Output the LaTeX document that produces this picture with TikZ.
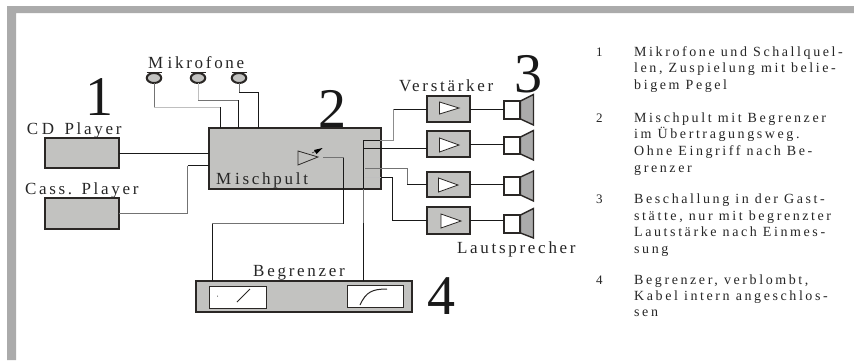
\documentclass[tikz,border=0pt]{standalone}
\usepackage{fontspec}
\setmainfont{Liberation Serif}
\newfontfamily\lab[LetterSpace=16]{Liberation Serif}
\newfontfamily\para[LetterSpace=18.5]{Liberation Serif}
\usetikzlibrary{shapes.geometric}
\definecolor{frameg}{HTML}{ABABAB}
\definecolor{boxg}{HTML}{C2C2C0}
\definecolor{dark}{HTML}{2A2725}
\tikzset{
  x=1pt,y=-1pt,
  unit/.style={draw=dark,line width=1.5pt,fill=boxg,inner sep=0pt,outer sep=0pt},
  white box/.style={draw=dark,line width=1pt,fill=white,inner sep=0pt,outer sep=0pt},
  wire/.style={line width=.75pt,draw=black!90},
  wireg/.style={line width=.75pt,draw=black!55},
  wirel/.style={line width=.9pt,draw=black!25},
  amptri/.style={draw=dark,line width=.8pt,fill=white,line join=miter},
  label/.style={anchor=base west,inner sep=0pt,outer sep=0pt,text=black!85,font=\fontsize{17}{17}\lab},
  bignum/.style={anchor=base,inner sep=0pt,text=black!90,font=\fontsize{56}{56}\selectfont},
  item/.style={anchor=base west,inner sep=0pt,text=black!85,font=\fontsize{14}{14}\para},
  itemnum/.style={anchor=base west,inner sep=0pt,text=black!85,font=\fontsize{13}{13}\selectfont},
}
\newcommand{\bx}[6][unit]{\node[#1,minimum width=#4-#2,minimum height=#5-#3] (#6) at ({(#2+#4)/2},{(#3+#5)/2}) {};}
\newcommand{\mic}[2]{%
  \node[draw=dark,line width=2pt,fill=boxg,ellipse,inner sep=0pt,outer sep=0pt,minimum width=14.5pt,minimum height=10pt] (#2) at (#1,78) {};
  \draw[dark,line width=1pt] (#1-7.5,72.3) -- (#1+7.5,72.3);}
\newcommand{\spk}[5]{% name, y1 (square top), y2 (bottom), cone top, cone bottom
  \bx[white box,line width=1.4pt]{504}{#2}{520}{#3}{#1}
  \fill[frameg,draw=dark,line width=1.4pt,line join=miter] (520.5,#2) -- (533.5,#4) -- (533.5,#5) -- (520.5,#3) -- cycle;}
\begin{document}
\begin{tikzpicture}
\useasboundingbox (0,0) rectangle (854,360);
\fill[white] (0,0) rectangle (854,360);
\fill[frameg] (7,360) -- (7,6) -- (854,6) -- (854,13) -- (16,13) -- (16,360) -- cycle;

% sources and mixer
\bx{45}{138}{119}{168}{cd}
\bx{45}{198}{119}{229}{cass}
\bx{209}{128}{381}{189}{mix}
% microphones
\mic{154}{m1}\mic{198}{m2}\mic{239}{m3}
% amps
\bx{427}{96}{470}{122}{a1}
\bx{427}{131}{470}{157}{a2}
\bx{427}{172}{470}{197}{a3}
\bx{427}{207}{470}{234}{a4}
\draw[amptri] (439.5,102) -- (459,108) -- (439.5,114) -- cycle;
\draw[amptri] (439.5,138) -- (459,145) -- (439.5,152) -- cycle;
\draw[amptri] (438.5,178) -- (458,185) -- (438.5,192) -- cycle;
\draw[amptri] (441,214) -- (461,221) -- (441,228) -- cycle;
% speakers
\spk{s1}{101}{119}{94.5}{125}
\spk{s2}{137}{154}{130.5}{160}
\spk{s3}{177}{195}{171}{201}
\spk{s4}{215}{233}{208.5}{238}
% limiter
\bx{196}{281}{412}{312}{lim}
\bx[white box]{209}{286}{266}{308}{lima}
\bx[white box]{347}{285}{403}{307}{limb}
\draw[dark,line width=1pt] (237,302) -- (250,289);
\fill[dark] (217.5,296) circle (.5);
\draw[dark,line width=1pt] (360,305) .. controls (366,292) and (372,289) .. (387,289);
% amp symbol in the mixer
\coordinate (tip) at (318,157);
\draw[dark,line width=.8pt,fill=boxg] (298,151) -- (tip) -- (298,165) -- cycle;
\draw[dark,line width=.6pt] (312,153) -- (318,150);
\fill[black] (322.5,148) -- (314,150) -- (316.5,154) -- cycle;

% wires
\coordinate (m1b) at (220.5,107);
\coordinate (m2b) at (238.5,100);
\coordinate (m3b) at (258.5,92);
\draw[wireg] (m1.south) -- (m1.south |- m1b);
\draw[wirel] (m1.south |- m1b) -- (m1b);
\draw[wire] (m1b) -- (m1b |- mix.north);
\draw[wirel] (m2.south) -- (m2.south |- m2b);
\draw[wireg] (m2.south |- m2b) -- (m2b);
\draw[wire] (m2b) -- (m2b |- mix.north);
\draw[wireg] (m3.south) -- (m3.south |- m3b);
\draw[wire] (m3.south |- m3b) -- (m3b) -- (m3b |- mix.north);
\draw[wire] (cd.east) -- (cd.east -| mix.west);
\coordinate (ca) at (187.5,213);
\coordinate (cb) at (187.5,165.5);
\draw[wireg] (cass.east |- ca) -- (ca);
\draw[wireg] (ca) -- (cb);
\draw[wire] (cb) -- (cb -| mix.west);

\coordinate (t1) at (363,140);
\coordinate (b1) at (393.5,140);
\draw[wire] (t1) -- (380,140);
\draw[wirel,black!45] (380,140) -- (b1) -- (b1 |- a1.west);
\draw[wire] (b1 |- a1.west) -- (a1.west);
\draw[wire] (363,148) -- (363,148 -| a2.west);
\coordinate (b3) at (407,168);
\draw[wireg] (365,168) -- (b3) -- (b3 |- a3.west);
\draw[wire] (b3 |- a3.west) -- (a3.west);
\coordinate (b4) at (392.5,177);
\draw[wirel] (363,177) -- (381,177);
\draw[wire] (381,177) -- (b4) -- (b4 |- a4.west) -- (a4.west);
\draw[wire] (a1.east) -- (a1.east -| s1.west);
\draw[wire] (a2.east) -- (a2.east -| s2.west);
\draw[wire] (a3.east) -- (a3.east -| s3.west);
\draw[wire] (a4.east) -- (a4.east -| s4.west);

% limiter connections
\coordinate (l1) at (212,223.5);
\coordinate (l2) at (343.5,223.5);
\coordinate (l3) at (343.5,157);
\draw[wire] (l1 |- lim.north) -- (l1);
\draw[wireg] (l1) -- (l2);
\draw[wire] (l2) -- (l3);
\draw[wireg] (l3) -- (323,157);
\coordinate (r1) at (363,223);
\draw[wire] (t1) -- (363,189);
\draw[wireg] (363,189) -- (r1);
\draw[wire] (r1) -- (r1 |- lim.north);

% labels
\node[label] (tmik) at (148,68) {M\kern4.5pt ikrofone};
\node[label] (tcd) at (27,134) {C\kern3.5pt D\kern3.5pt\ Player};
\node[label] (tca) at (25,194) {Cass. Player};
\node[label] (tmi) at (216,184) {M\kern4pt ischpult};
\node[label] (tve) at (399,91) {Verstärker};
\node[label] (tla) at (457,253) {Lautsprecher};
\node[label] (tbe) at (253,276) {B\kern3pt egrenzer};
\node[bignum] (n1) at (99,115) {1};
\node[bignum] (n2) at (332.5,127) {2};
\node[bignum] (n3) at (528,92) {3};
\node[bignum] (n4) at (441,314) {4};

% list
\node[itemnum] (i1) at (596,56) {1};
\node[item] (l11) at (634,56) {Mikrofone und Schallquel-};
\node[item] (l12) at (634,72.5) {len, Zuspielung mit belie-};
\node[item] (l13) at (634,89) {bigem Pegel};
\node[itemnum] (i2) at (596,122) {2};
\node[item] (l21) at (634,122) {Mischpult mit Begrenzer};
\node[item] (l22) at (634,138.5) {im Übertragungsweg.};
\node[item] (l23) at (634,155.5) {Ohne Eingriff nach Be-};
\node[item] (l24) at (634,172) {grenzer};
\node[itemnum] (i3) at (596,203) {3};
\node[item] (l31) at (634,203) {Beschallung in der Gast-};
\node[item] (l32) at (634,220) {stätte, nur mit begrenzter};
\node[item] (l33) at (634,236.5) {Lautstärke nach Einmes-};
\node[item] (l34) at (634,253) {sung};
\node[itemnum] (i4) at (596,284) {4};
\node[item] (l41) at (634,284) {Begrenzer, verblombt,};
\node[item] (l42) at (634,300.5) {Kabel intern angeschlos-};
\node[item] (l43) at (634,316.5) {sen};
\end{tikzpicture}
\end{document}
